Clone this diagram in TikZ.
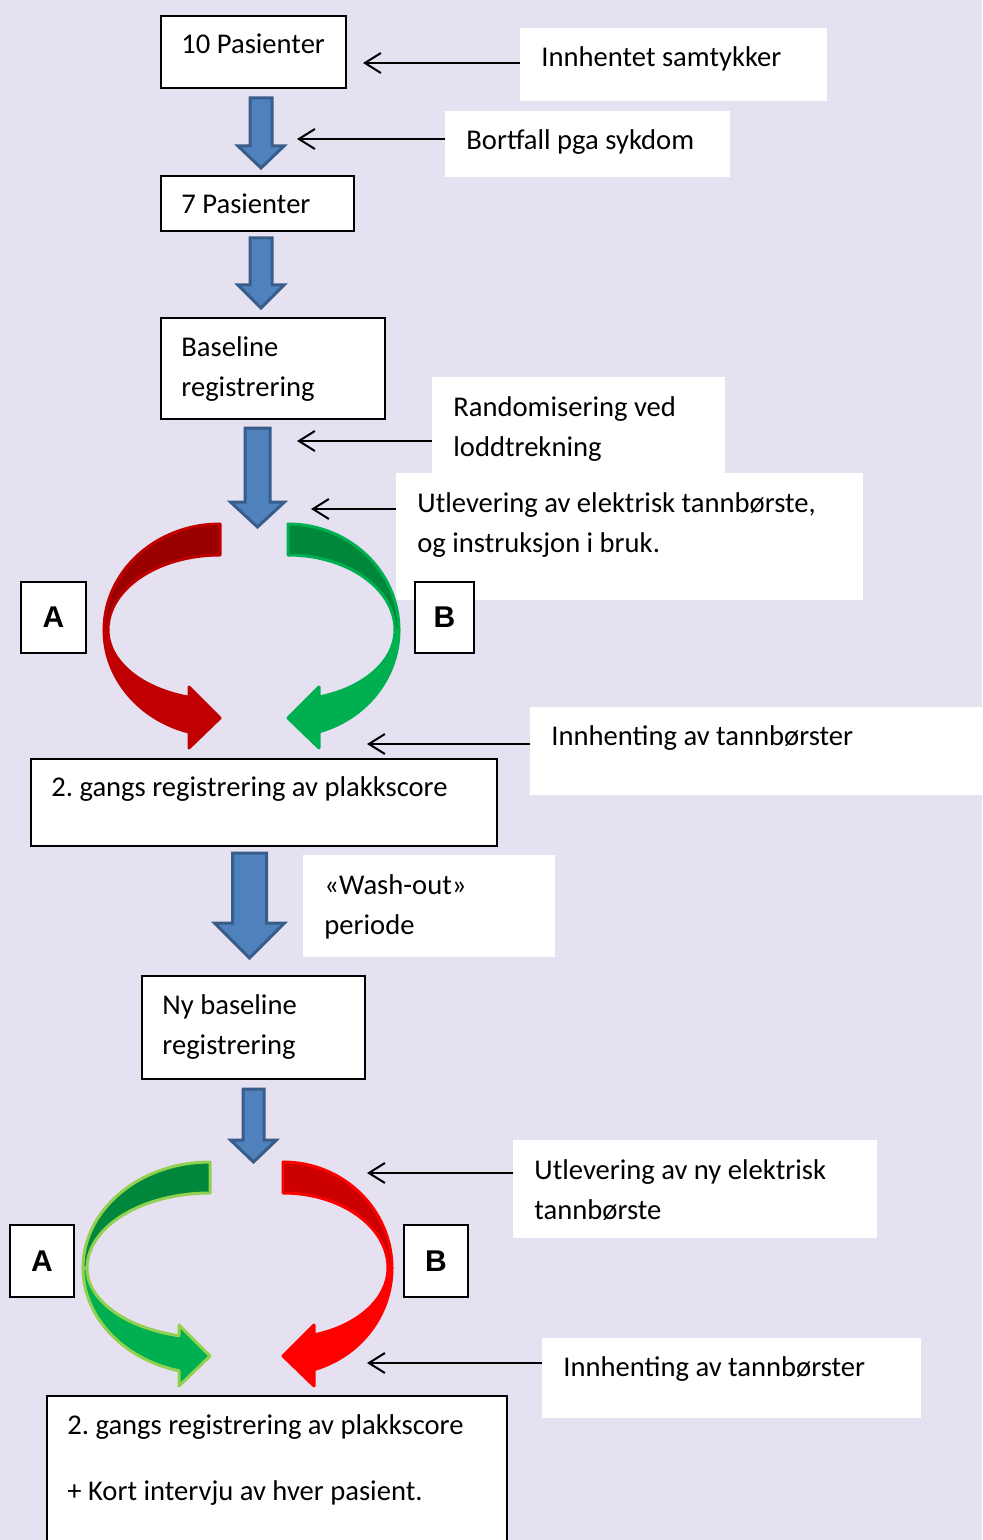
\documentclass[tikz,border=0pt]{standalone}
\usepackage{fontspec}
\setmainfont{Carlito}
\newfontfamily\letterfont{Liberation Sans}
\usepackage{xcolor}
\usetikzlibrary{arrows.meta}
\frenchspacing

\definecolor{lavender}{RGB}{230,225,241}
\definecolor{arrowblue}{HTML}{4F81BD}
\definecolor{arrowedge}{HTML}{385D8A}
\definecolor{redfront}{HTML}{C00000}
\definecolor{redback}{HTML}{9A0000}
\definecolor{greenfront}{HTML}{00B050}
\definecolor{greenback}{HTML}{00873C}
\definecolor{limegreen}{HTML}{92D050}
\definecolor{brightred}{HTML}{FF0000}
\definecolor{brightredback}{HTML}{CC0000}

% twisted curved arrow: centre, direction (1 or -1), outer x radius, back, front, outline
\newcommand{\twistarrow}[6]{%
  \begin{scope}[shift={#1}, xscale=#2]
    \filldraw[band, fill=#4, draw=#6] (0,-106)
      arc[start angle=270, end angle=180, x radius=#3, y radius=106]
      -- ++(4,0)
      arc[start angle=180, end angle=270, x radius=#3-4, y radius=75] -- cycle;
    \filldraw[band, fill=#5, draw=#6] (-#3,0)
      arc[start angle=180, end angle={acos(-31/#3)}, x radius=#3, y radius=106]
      -- (-31,118) -- (0,88) -- (-31,57)
      -- ({-31},{70*sqrt(1-(31/(#3-4))^2)})
      arc[start angle={acos(-31/(#3-4))}, end angle=180, x radius=#3-4, y radius=70] -- cycle;
  \end{scope}}

% block arrow: centre x, top, head start, tip, shaft half width, head half width
\newcommand{\blockarrow}[6]{%
  \filldraw[blockarrow] (#1-#5,#2) -- (#1+#5,#2) -- (#1+#5,#3) -- (#1+#6,#3)
    -- (#1,#4) -- (#1-#6,#3) -- (#1-#5,#3) -- cycle;}

\begin{document}
\begin{tikzpicture}[
    x=0.5pt,
    y=-0.5pt,
    font=\fontsize{14.3}{20}\selectfont,
    frame/.style={
        rectangle,
        draw=black,
        line width=1pt,
        fill=white,
        anchor=north west,
        inner sep=0pt
    },
    plain/.style={
        rectangle,
        fill=white,
        anchor=north west,
        inner sep=0pt
    },
    txt/.style={
        anchor=north west,
        inner sep=0pt,
        align=left,
        xshift=10.5pt,
        yshift=-5pt,
        execute at begin node=\strut
    },
    lines/.style={
        txt,
        yshift=-4.5pt
    },
    letter/.style={
        frame,
        font={\letterfont\fontsize{15}{18}\selectfont\bfseries}
    },
    pointer/.style={
        -{Straight Barb[length=8pt,width=10pt]},
        line width=1pt,
        draw=black
    },
    blockarrow/.style={
        fill=arrowblue,
        draw=arrowedge,
        line width=1.5pt
    },
    band/.style={
        line width=1.5pt,
        line join=round
    }
]

\useasboundingbox (0,0) rectangle (982,1540);
\clip (0,0) rectangle (982,1540);
\fill[lavender] (0,0) rectangle (982,1540);

% =========================================================
% Steps
% =========================================================
\node[frame, minimum width=92.5pt, minimum height=36pt] (pas10) at (160,15) {};
\node[txt] (pas10t) at (pas10.north west) {10 Pasienter};

\node[frame, minimum width=96.5pt, minimum height=27.5pt] (pas7) at (160,175) {};
\node[txt] (pas7t) at (pas7.north west) {7 Pasienter};

\node[frame, minimum width=112pt, minimum height=50.5pt] (base) at (160,317) {};
\node[lines] (baset) at (base.north west) {Baseline\\registrering};

\node[frame, minimum width=233pt, minimum height=43.5pt] (reg2) at (30,758) {};
\node[txt] (reg2t) at (reg2.north west) {2. gangs registrering av plakkscore};

\node[frame, minimum width=111.5pt, minimum height=51.5pt] (nybase) at (141,975) {};
\node[lines] (nybaset) at (nybase.north west) {Ny baseline\\registrering};

\node[frame, minimum width=230pt, minimum height=80pt] (reg3) at (46,1395) {};
\node[lines] (reg3t) at (reg3.north west) {2. gangs registrering av plakkscore\\[13pt]+ Kort intervju av hver pasient.};

% =========================================================
% Notes
% =========================================================
\node[plain, minimum width=153.5pt, minimum height=36.5pt] (samtykke) at (520,28) {};
\node[txt] (samtykket) at (samtykke.north west) {Innhentet samtykker};

\node[plain, minimum width=142.5pt, minimum height=33pt] (bortfall) at (445,111) {};
\node[txt] (bortfallt) at (bortfall.north west) {Bortfall pga sykdom};

\node[plain, minimum width=146.5pt, minimum height=50pt] (random) at (432,377) {};
\node[lines] (randomt) at (random.north west) {Randomisering ved\\loddtrekning};

\node[plain, minimum width=233.5pt, minimum height=63.5pt] (utlev) at (396,473) {};
\node[lines] (utlevt) at (utlev.north west) {Utlevering av elektrisk tannbørste,\\og instruksjon i bruk.};

\node[plain, minimum width=226pt, minimum height=44pt] (innhent) at (530,707) {};
\node[txt] (innhentt) at (innhent.north west) {Innhenting av tannbørster};

\node[plain, minimum width=126pt, minimum height=51pt] (washout) at (303,855) {};
\node[lines] (washoutt) at (washout.north west) {«Wash-out»\\periode};

\node[plain, minimum width=182pt, minimum height=49pt] (utlevny) at (513,1140) {};
\node[lines] (utlevnyt) at (utlevny.north west) {Utlevering av ny elektrisk\\tannbørste};

\node[plain, minimum width=189.5pt, minimum height=40pt] (innhentny) at (542,1338) {};
\node[txt] (innhentnyt) at (innhentny.north west) {Innhenting av tannbørster};

% =========================================================
% Groups
% =========================================================
\node[letter, minimum width=32.5pt, minimum height=35.5pt] (groupA) at (20,581) {A};
\node[letter, minimum width=29.5pt, minimum height=35.5pt] (groupB) at (414,581) {B};
\node[letter, minimum width=32pt, minimum height=36pt] (groupAny) at (9,1224) {A};
\node[letter, minimum width=32pt, minimum height=36pt] (groupBny) at (403,1224) {B};

% =========================================================
% Flow arrows
% =========================================================
\blockarrow{261}{98}{146}{168}{11}{23}
\blockarrow{261}{238}{285}{308}{11}{23}
\blockarrow{257.5}{428}{502}{527}{12.5}{27}
\blockarrow{249.5}{853}{923}{958}{17}{35}
\blockarrow{253.5}{1089}{1140}{1162}{10.5}{23}

\twistarrow{(220,630)}{1}{116}{redback}{redfront}{redfront}
\twistarrow{(288,630)}{-1}{111}{greenback}{greenfront}{greenfront}
\twistarrow{(210,1268)}{1}{127}{greenback}{greenfront}{limegreen}
\twistarrow{(283,1268)}{-1}{109}{brightredback}{brightred}{brightred}

% =========================================================
% Note pointers
% =========================================================
\coordinate (aim1) at (363,63);
\coordinate (aim2) at (297,139);
\coordinate (aim3) at (297,441);
\coordinate (aim4) at (311,509);
\coordinate (aim5) at (367,744);
\coordinate (aim6) at (367,1173);
\coordinate (aim7) at (367,1363);

\draw[pointer] (samtykke.west |- aim1) -- (aim1);
\draw[pointer] (bortfall.west |- aim2) -- (aim2);
\draw[pointer] (random.west |- aim3) -- (aim3);
\draw[pointer] (utlev.west |- aim4) -- (aim4);
\draw[pointer] (innhent.west |- aim5) -- (aim5);
\draw[pointer] (utlevny.west |- aim6) -- (aim6);
\draw[pointer] (innhentny.west |- aim7) -- (aim7);

\end{tikzpicture}
\end{document}
